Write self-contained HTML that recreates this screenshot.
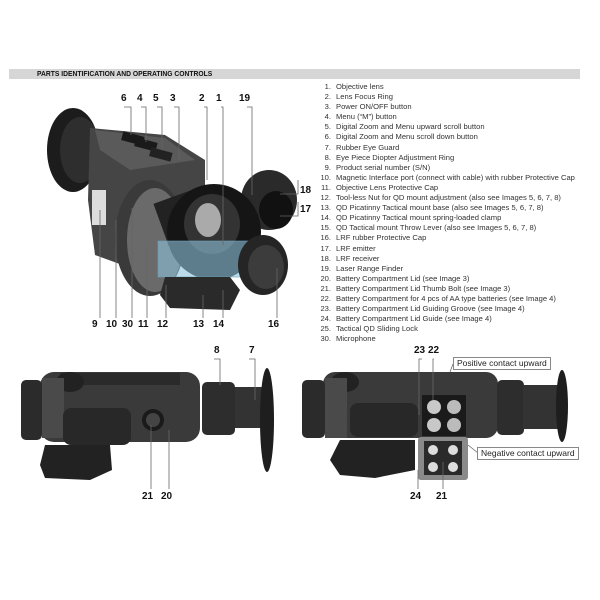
<!DOCTYPE html>
<html><head><meta charset="utf-8"><style>
body{margin:0;background:#fff;width:600px;height:600px;overflow:hidden;position:relative;font-family:"Liberation Sans Narrow","Liberation Sans",sans-serif}
.bar{position:absolute;left:9px;top:69px;width:571px;height:10px;background:#d6d6d6}
.title{position:absolute;left:37px;top:69px;font-size:7.5px;font-weight:bold;line-height:10px;color:#111;transform:scaleX(0.9);transform-origin:0 0}
.list{position:absolute;left:312px;top:82px;font-size:7.6px;line-height:10.1px;color:#333}
.list div{white-space:nowrap}
.list span{display:inline-block;width:19px;text-align:right;margin-right:5px}
.lb{position:absolute;font-family:"Liberation Sans",sans-serif;font-weight:bold;font-size:10px;color:#111}
.box{position:absolute;border:1px solid #888;font-family:"Liberation Sans",sans-serif;font-size:8.5px;line-height:11px;padding:0 3px;background:#fff;color:#222}
svg{position:absolute;left:0;top:0}
</style></head><body>
<div class="bar"></div>
<div class="title">PARTS IDENTIFICATION AND OPERATING CONTROLS</div>
<svg width="600" height="600">
<ellipse cx="73" cy="150" rx="26" ry="42" fill="#1c1c1c"/>
<ellipse cx="80" cy="150" rx="20" ry="33" fill="#2e2e2e"/>
<polygon points="90,128 165,135 205,160 205,250 150,275 95,255 88,200" fill="#454545"/>
<polygon points="95,130 165,138 195,160 130,170 100,150" fill="#5a5a5a"/>
<rect x="122" y="134" width="22" height="9" fill="#1a1a1a" transform="rotate(15 133 138)"/>
<rect x="135" y="140" width="22" height="9" fill="#1a1a1a" transform="rotate(15 146 144)"/>
<rect x="150" y="150" width="22" height="9" fill="#222" transform="rotate(15 161 154)"/>
<rect x="92" y="190" width="14" height="35" fill="#ddd"/>
<ellipse cx="269" cy="200" rx="28" ry="30" fill="#2a2a2a"/>
<ellipse cx="276" cy="210" rx="17" ry="19" fill="#111"/>
<ellipse cx="150" cy="238" rx="35" ry="58" fill="#3a3a3a"/>
<ellipse cx="155" cy="240" rx="28" ry="52" fill="#6a6a6a"/>
<rect x="160" y="195" width="45" height="45" fill="#222" transform="rotate(-20 182 218)"/>
<ellipse cx="214" cy="232" rx="47" ry="48" fill="#151515"/>
<ellipse cx="212" cy="224" rx="28" ry="30" fill="#333"/>
<ellipse cx="208" cy="220" rx="13" ry="17" fill="#aaa"/>
<rect x="158" y="241" width="111" height="36" fill="#8fc3dc" fill-opacity="0.6" stroke="#6a9fb8" stroke-width="0.6"/>
<ellipse cx="263" cy="265" rx="25" ry="30" fill="#252525"/>
<ellipse cx="266" cy="267" rx="18" ry="22" fill="#3c3c3c"/>
<polygon points="165,277 230,277 240,290 230,310 170,308 160,295" fill="#2a2a2a"/>
<g stroke="#666" stroke-width="0.8" fill="none">
<polyline points="124,107 131,107 131,135"/><polyline points="141,107 146,107 146,142"/><polyline points="157,107 162,107 162,150"/><polyline points="174,107 179,107 179,160"/>
<polyline points="204,107 207,107 207,180"/><polyline points="221,107 223,107 223,245"/><polyline points="247,107 252,107 252,195"/>
<polyline points="298,180 298,194 280,194"/><polyline points="298,202 298,216 280,216"/>
<line x1="100" y1="318" x2="100" y2="210"/><line x1="116" y1="318" x2="116" y2="220"/><line x1="132" y1="318" x2="132" y2="208"/><line x1="147" y1="318" x2="147" y2="250"/><line x1="166" y1="318" x2="166" y2="285"/><line x1="203" y1="318" x2="203" y2="295"/><line x1="223" y1="318" x2="223" y2="290"/><line x1="277" y1="318" x2="277" y2="268"/>
</g>
<rect x="40" y="372" width="160" height="70" rx="14" fill="#3a3a3a"/>
<rect x="60" y="373" width="120" height="12" fill="#2a2a2a"/>
<ellipse cx="70" cy="382" rx="14" ry="10" fill="#222"/>
<rect x="21" y="380" width="21" height="60" rx="5" fill="#2b2b2b"/>
<rect x="42" y="378" width="22" height="60" fill="#4a4a4a"/>
<rect x="202" y="382" width="33" height="53" rx="5" fill="#2d2d2d"/>
<rect x="235" y="387" width="30" height="41" fill="#333"/>
<ellipse cx="267" cy="420" rx="7" ry="52" fill="#1e1e1e"/>
<rect x="63" y="408" width="68" height="37" rx="8" fill="#282828"/>
<circle cx="153" cy="420" r="11" fill="#1a1a1a"/><circle cx="153" cy="420" r="7" fill="#444"/>
<polygon points="45,445 110,445 112,470 90,480 45,478 40,465" fill="#222"/>
<g stroke="#666" stroke-width="0.8" fill="none">
<polyline points="214,359 220,359 220,385"/><polyline points="249,359 255,359 255,400"/>
<line x1="151" y1="489" x2="151" y2="425"/><line x1="169" y1="489" x2="169" y2="430"/>
</g>
<rect x="323" y="372" width="175" height="66" rx="12" fill="#3a3a3a"/>
<ellipse cx="345" cy="382" rx="14" ry="10" fill="#222"/>
<rect x="302" y="380" width="23" height="58" rx="5" fill="#2b2b2b"/>
<rect x="325" y="378" width="22" height="60" fill="#4a4a4a"/>
<rect x="497" y="380" width="27" height="55" rx="5" fill="#2d2d2d"/>
<rect x="523" y="385" width="35" height="44" fill="#333"/>
<ellipse cx="562" cy="406" rx="6" ry="36" fill="#1e1e1e"/>
<rect x="350" y="403" width="68" height="34" rx="8" fill="#282828"/>
<rect x="422" y="395" width="44" height="41" fill="#1a1a1a"/>
<circle cx="434" cy="407" r="7" fill="#c8c8c8"/><circle cx="454" cy="407" r="7" fill="#bbb"/><circle cx="434" cy="425" r="7" fill="#c8c8c8"/><circle cx="454" cy="425" r="7" fill="#bbb"/>
<polygon points="340,440 415,440 415,470 375,478 340,475 330,460" fill="#222"/>
<rect x="418" y="437" width="50" height="43" rx="3" fill="#8a8a8a"/>
<rect x="424" y="441" width="38" height="34" fill="#2a2a2a"/>
<circle cx="433" cy="450" r="5" fill="#ddd"/><circle cx="453" cy="450" r="5" fill="#ddd"/><circle cx="433" cy="467" r="5" fill="#ddd"/><circle cx="453" cy="467" r="5" fill="#ddd"/>
<g stroke="#666" stroke-width="0.8" fill="none">
<polyline points="422,359 419,359 419,415"/><polyline points="434,359 433,359 433,400"/>
<line x1="453" y1="364" x2="450" y2="372"/><line x1="478" y1="453" x2="468" y2="445"/>
<line x1="418" y1="489" x2="418" y2="470"/><line x1="443" y1="489" x2="443" y2="462"/>
</g>
</svg>
<div class="lb" style="left:121px;top:93px">6</div><div class="lb" style="left:137px;top:93px">4</div><div class="lb" style="left:153px;top:93px">5</div><div class="lb" style="left:170px;top:93px">3</div><div class="lb" style="left:199px;top:93px">2</div><div class="lb" style="left:216px;top:93px">1</div><div class="lb" style="left:239px;top:93px">19</div>
<div class="lb" style="left:300px;top:185px">18</div><div class="lb" style="left:300px;top:204px">17</div>
<div class="lb" style="left:92px;top:319px">9</div><div class="lb" style="left:106px;top:319px">10</div><div class="lb" style="left:122px;top:319px">30</div><div class="lb" style="left:138px;top:319px">11</div><div class="lb" style="left:157px;top:319px">12</div><div class="lb" style="left:193px;top:319px">13</div><div class="lb" style="left:213px;top:319px">14</div><div class="lb" style="left:268px;top:319px">16</div>
<div class="lb" style="left:214px;top:345px">8</div><div class="lb" style="left:249px;top:345px">7</div>
<div class="lb" style="left:142px;top:491px">21</div><div class="lb" style="left:161px;top:491px">20</div>
<div class="lb" style="left:414px;top:345px">23</div><div class="lb" style="left:428px;top:345px">22</div>
<div class="lb" style="left:410px;top:491px">24</div><div class="lb" style="left:436px;top:491px">21</div>
<div class="box" style="left:453px;top:357px">Positive contact upward</div>
<div class="box" style="left:477px;top:447px">Negative contact upward</div>
<div class="list">
<div><span>1.</span>Objective lens</div>
<div><span>2.</span>Lens Focus Ring</div>
<div><span>3.</span>Power ON/OFF button</div>
<div><span>4.</span>Menu (“M”) button</div>
<div><span>5.</span>Digital Zoom and Menu upward scroll button</div>
<div><span>6.</span>Digital Zoom and Menu scroll down button</div>
<div><span>7.</span>Rubber Eye Guard</div>
<div><span>8.</span>Eye Piece Diopter Adjustment Ring</div>
<div><span>9.</span>Product serial number (S/N)</div>
<div><span>10.</span>Magnetic Interface port (connect with cable) with rubber Protective Cap</div>
<div><span>11.</span>Objective Lens Protective Cap</div>
<div><span>12.</span>Tool-less Nut for QD mount adjustment (also see Images 5, 6, 7, 8)</div>
<div><span>13.</span>QD Picatinny Tactical mount base (also see Images 5, 6, 7, 8)</div>
<div><span>14.</span>QD Picatinny Tactical mount spring-loaded clamp</div>
<div><span>15.</span>QD Tactical mount Throw Lever (also see Images 5, 6, 7, 8)</div>
<div><span>16.</span>LRF rubber Protective Cap</div>
<div><span>17.</span>LRF emitter</div>
<div><span>18.</span>LRF receiver</div>
<div><span>19.</span>Laser Range Finder</div>
<div><span>20.</span>Battery Compartment Lid (see Image 3)</div>
<div><span>21.</span>Battery Compartment Lid Thumb Bolt (see Image 3)</div>
<div><span>22.</span>Battery Compartment for 4 pcs of AA type batteries (see Image 4)</div>
<div><span>23.</span>Battery Compartment Lid Guiding Groove (see Image 4)</div>
<div><span>24.</span>Battery Compartment Lid Guide (see Image 4)</div>
<div><span>25.</span>Tactical QD Sliding Lock</div>
<div><span>30.</span>Microphone</div>
</div>
</body></html>
